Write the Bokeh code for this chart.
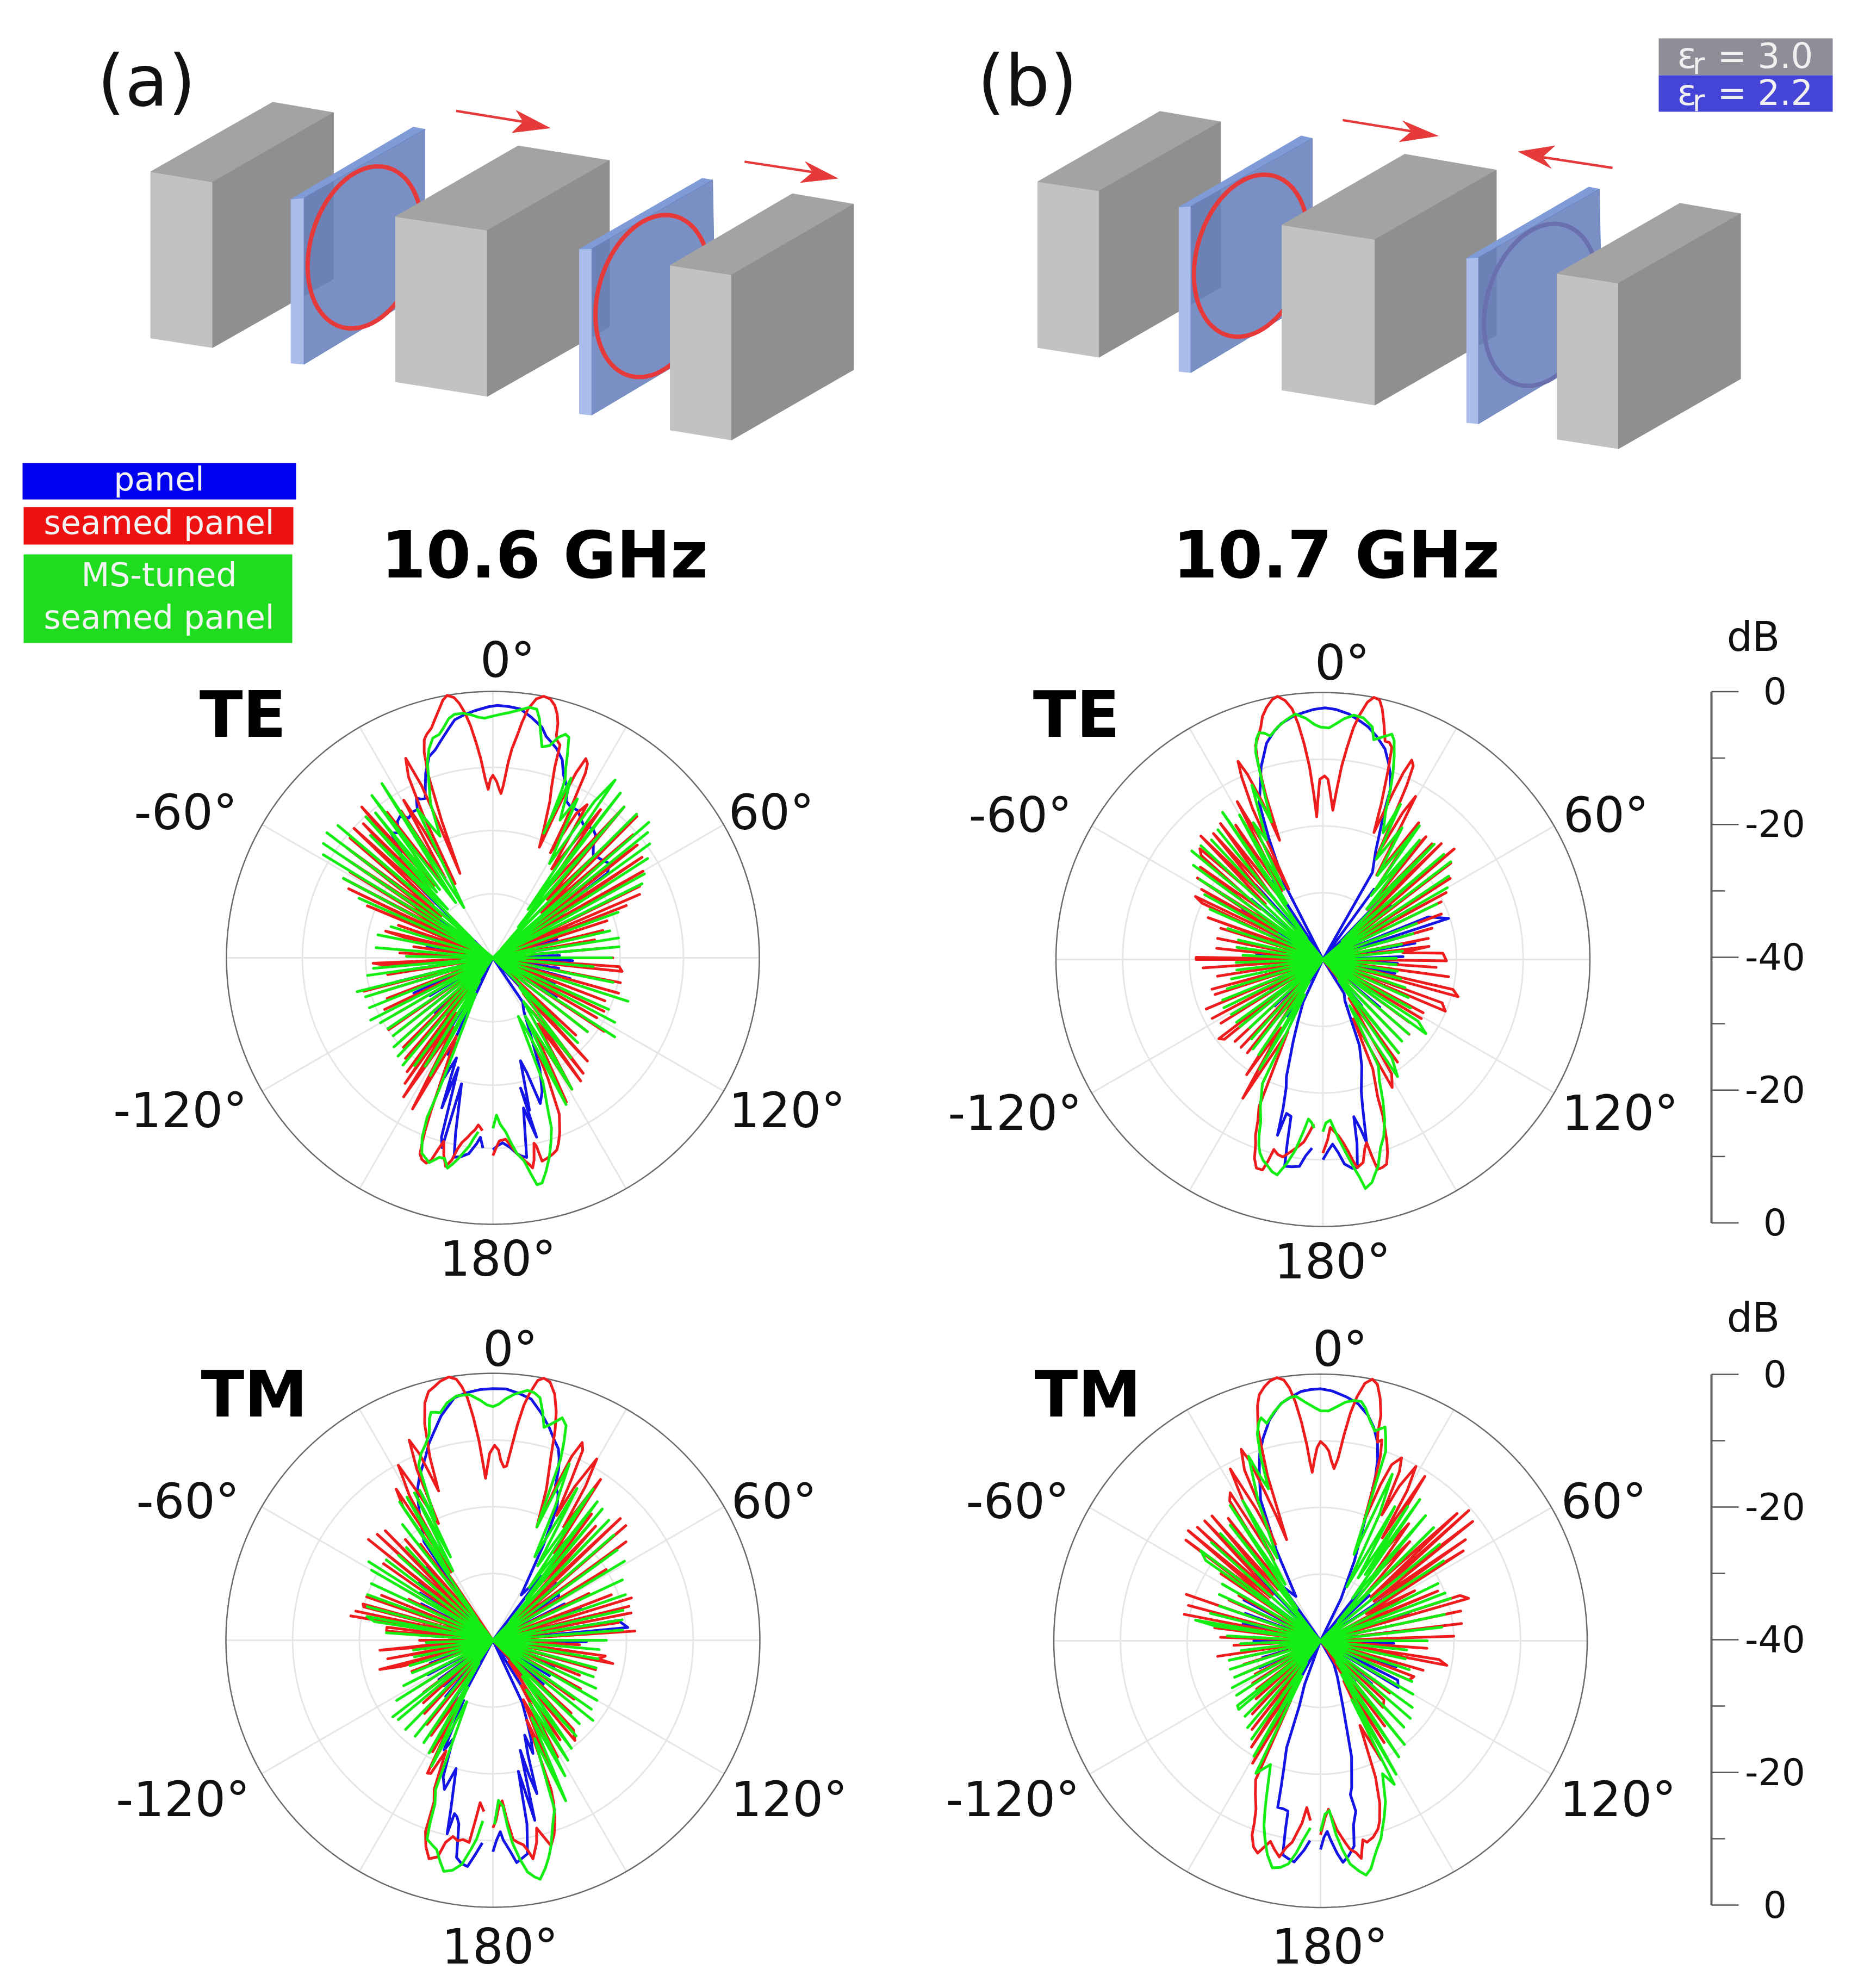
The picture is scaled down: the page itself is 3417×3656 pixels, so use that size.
import numpy as np
from bokeh.plotting import figure
from bokeh.models import Range1d
from bokeh.core.properties import value
from bokeh.embed import file_html
from bokeh.resources import INLINE

te_a_blue = [-177,-11.4,-176,-13,-175,-12,-173,-10.4,-171,-9.8,-169,-9.5,-168,-13,-166,-20.5,-165,-10.5,-164,-12,-162.5,-22.7,-161.2,-16.2,-160,-24,-157.3,-19.4,-156,-26,-155,-24,-153,-40,-149,-26,-146,-40,-142,-29,-138,-40,-134,-28,-131,-40,-128,-27,-125,-40,-121,-29,-118,-40,-114,-27,-111,-40,-107,-28,-106,-40,-104,-25,-101,-40,-98,-28,-96,-40,-93,-27,-90,-40,-87,-29,-84,-40,-80,-30,-77,-40,-73,-31,-70,-40,-66,-30,-63,-40,-60,-31,-57,-40,-54,-30,-50,-38,-46,-24,-44,-20,-41,-19,-39.2,-15.8,-37,-16.5,-35,-15,-33.3,-14.6,-31,-15.5,-29,-15,-27,-15,-25.6,-13.4,-24.5,-13.8,-23,-14,-21.4,-12.2,-20,-10.5,-17.6,-8.3,-15.5,-7.6,-13.7,-6.6,-11,-5,-9.1,-3.8,-6.5,-3.2,-4.2,-2.8,-1,-2.3,1,-2.1,3.5,-2.2,6.3,-2.4,9,-3.4,12,-4.6,13.5,-5.8,15,-6.4,17,-7.2,19.3,-8.5,21,-10.5,23.9,-12.3,25,-14,26.7,-14.4,30,-14.5,34,-15.8,37.9,-15.5,40,-16,41,-17,44.2,-18.4,48,-18,51,-17.5,53.5,-18.6,56,-33,60,-25,63,-40,67,-28,70,-40,74,-30,77,-40,81,-31,84,-40,88,-30,90,-40,92,-28,95,-40,99,-30,102,-40,105,-28,108,-40,112,-30,115,-40,118,-30,119.5,-40,121.4,-28.8,124,-40,128,-32,132,-40,137,-33,142,-40,146,-32,150,-30.7,154,-27,157,-22,159.8,-18.6,162,-17,163.5,-22,165,-24,166.5,-16.5,167.5,-19,168,-20,166.3,-12.3,168.5,-17,170.4,-9.6,172,-10,173,-10.4,175,-11.5,177,-12.2,178.5,-11.8,180,-11.2]
te_a_red = [-176.5,-14,-175.5,-14.6,-175,-14.8,-174,-14,-173,-13.5,-172,-12.8,-170.5,-11.9,-169.5,-10.8,-168.5,-9,-167.2,-7.9,-166,-9.5,-165,-11.5,-164,-10,-163,-8.2,-162,-7.6,-160.6,-7.9,-159.6,-8.6,-159,-10.5,-158.5,-12.5,-158,-15,-155,-27,-152,-14.3,-150.5,-28,-147.3,-15.2,-146,-30,-145,-17,-143.5,-32,-143,-18.6,-141,-34,-139,-20,-137.5,-36,-135,-21,-133.5,-38,-132,-21.5,-130,-40,-128,-22,-126.5,-40,-124.6,-21,-122.5,-40,-120,-23,-118,-40,-115.5,-22,-113.5,-40,-111,-23,-109,-40,-107,-22,-105.5,-40,-104.5,-20,-102,-40,-99,-24,-97,-40,-94,-24,-92.6,-22,-90.5,-40,-87,-26,-85,-40,-82,-28,-80,-40,-77,-26.5,-76,-23.4,-74,-38,-71,-25,-69.5,-38,-67.5,-19.6,-66,-36,-64.4,-16,-63.2,-36,-62,-14.6,-60.5,-34,-59,-15,-57.5,-32,-56,-13.5,-54.5,-30,-53,-12.5,-51.5,-30,-50,-12,-48.5,-28,-47,-11.5,-45.5,-27,-44,-12,-42.5,-26,-41,-10,-39,-26,-36,-13,-34,-26,-32,-14,-31,-26,-29.5,-12.8,-28.5,-18,-27,-27.5,-26,-16,-25,-10,-23.6,-7.3,-22.5,-12,-22,-18,-21.3,-26.4,-20.5,-18,-19.5,-11,-18.5,-7.5,-17.5,-5.7,-16.5,-5,-15,-4.3,-13.5,-3,-12.4,-2,-11,-0.6,-9.9,0,-8.5,-0.5,-7.5,-1.5,-6.5,-3,-5.5,-5,-4.5,-7.5,-3.5,-10,-2.5,-13,-1.6,-14.7,-0.8,-13.2,0,-12.6,1.2,-13.5,2,-14.5,2.8,-15.3,3.4,-14.2,3.8,-13,4.5,-10.5,5.2,-8.5,6.2,-6.5,7,-4.5,8,-2.3,9.5,-0.6,11,0,12.5,-0.2,13.8,-1,14.8,-2.2,15.5,-3.5,15.9,-5.2,16.5,-6,17.5,-6.5,18,-10,19,-13,20,-15,21.5,-19,22.8,-22,23.3,-17,23.7,-13,24.2,-9.5,25,-7,26,-7.6,26.6,-9,27,-12,28,-17,28.7,-22,30,-15,31.6,-13,33.5,-24,36,-12.5,38,-27,41,-10,43,-28,45.5,-9.7,47,-30,48.7,-12,50,-30,52,-12.5,53.5,-33,56,-13,57.5,-35,60,-14,61.5,-38,64,-15.5,65.3,-38,66.6,-16,67.8,-40,68.6,-18.5,70,-40,72,-22,73.5,-40,76,-23,77.5,-40,80,-24.5,82,-40,85,-24,87,-40,90,-22,91.5,-40,94,-21,96,-20.5,98,-40,101,-20.5,103,-40,105.7,-20.4,107.5,-40,111,-22,113,-40,115.7,-21.5,117.5,-40,120,-22,121.5,-40,123.5,-20,125.5,-40,128,-22,130,-40,133,-23,135,-36,137.5,-19,139.5,-33,142,-18,143.5,-30,144.5,-17.3,146,-28,149,-17,150.5,-27,153,-15.7,154.5,-25,155.5,-20,157,-14.5,159,-12,160.5,-10.5,161.6,-9.6,163,-9.2,165,-8.8,166.4,-8.6,167,-11,167.5,-11.5,168.5,-9,169.3,-7.9,170,-8.5,170.8,-9,172,-9.8,173,-10.4,175,-12,176,-12.7,177,-12.6,178,-12.5,179,-11.5,180,-10.3]
te_a_green = [-175.2,-13.8,-174,-12.8,-172.8,-11.5,-171.5,-10.5,-170.2,-9.4,-169,-8.5,-167.8,-7.7,-166.5,-9,-165,-9,-164,-8.5,-162.7,-7.8,-160,-8.8,-158.5,-11,-157.6,-14.1,-157.8,-18.3,-157.5,-23.6,-154.5,-34,-152,-20,-150,-36,-148,-20.8,-146,-38,-144,-20,-142,-40,-140,-19,-138,-40,-136,-19.5,-134,-40,-132,-20,-130,-40,-128,-21,-126,-40,-124,-21,-122,-40,-120,-20.5,-118,-40,-117,-19.4,-115,-40,-112,-20,-110,-40,-107,-20,-105,-40,-104,-19,-101,-40,-98,-21,-96,-40,-95,-22,-92,-40,-89,-27,-87,-40,-85,-22.4,-82,-40,-78.7,-22.4,-76,-40,-73,-24,-70,-40,-66,-18,-64,-40,-62,-14.6,-61,-40,-58.7,-10.2,-57.5,-40,-56,-9.3,-54.5,-40,-53,-8.8,-51,-40,-49.5,-9.4,-47.5,-36,-45,-14,-43,-30,-42,-11.5,-40.5,-27,-39,-12,-38,-27,-36.7,-9.6,-34,-30,-32.5,-9,-30,-31.3,-27,-15,-24.5,-19,-23.5,-20.1,-22,-15,-20,-11.9,-18.5,-9,-17,-7.2,-15.3,-5.8,-13.5,-5.5,-12,-4.6,-10.5,-3.5,-9,-3,-7,-3,-5,-3.4,-3.5,-3.8,-2,-4,0,-3.7,2,-3.4,3.8,-3.1,6,-2.6,8.3,-2,10,-2.1,11,-3.4,11.5,-4.5,13.1,-7.5,15,-7,16.5,-5.5,18,-4.7,19,-5,20,-7.2,21,-9.5,22,-11,22.3,-12.6,22.5,-17,22.2,-19.8,23.5,-10.6,26,-17,28,-13,31,-23.5,33,-12,34.5,-7.6,36,-31,37.7,-8.7,39.5,-34,41,-10,43,-38,45,-9.5,47,-40,49,-9,50.5,-40,51,-10.1,52.5,-40,54,-10.9,55.5,-40,57.3,-12.4,59,-40,61,-14,62.5,-40,63.6,-15,66,-40,70,-20,73,-40,77,-22,79,-40,81,-20.9,83,-40,85,-21,87,-40,90,-22.2,92,-40,95,-24.9,98,-40,101.5,-21.6,104,-40,107.8,-18.7,110,-40,114,-21,116,-40,117.9,-19.3,120,-40,123,-18.2,125,-40,128,-22,131,-40,135,-22,138,-34,142,-21,145,-32,149,-17,151,-30,153.5,-15.4,155,-28,156.6,-30.4,158,-20,160,-16,161,-13,162.5,-11,164.2,-8.9,166,-7,167.7,-5.4,169,-5.3,170,-7,171.3,-9.2,173,-10.4,174.5,-12.2,175.8,-13.8,177.5,-15,178.7,-16.4,180,-14.4]

te_b_blue = [-176.7,-11.7,-175,-10.5,-173.5,-8.8,-171.5,-8.6,-169.5,-8.5,-169,-12,-168.5,-16,-166.7,-16.3,-165.5,-12.8,-165,-17,-164,-20,-162.7,-21.6,-160,-27,-158,-30,-155,-33,-152,-40,-148,-30,-145,-40,-141,-30,-138,-40,-134,-30,-131,-40,-127,-29,-124,-40,-120,-31,-117,-40,-112,-32,-109,-40,-105,-30,-102,-40,-99,-29,-96,-40,-92,-29,-89,-40,-85,-30,-82,-40,-78,-30,-75,-40,-70,-27,-67,-40,-63,-28,-60,-40,-58,-25.8,-55,-40,-50,-26,-47,-40,-42,-25,-38,-40,-33,-26,-30,-40,-27,-27,-24,-20,-22.2,-14.8,-20,-12.5,-17.8,-9.7,-16,-8,-14.6,-6.5,-12,-5,-10,-4.1,-7,-3.3,-4.6,-2.9,-2,-2.5,0.5,-2.3,3,-2.5,6,-3,9,-3.9,11,-4.5,13.5,-5.6,16.4,-7.1,18.5,-9,20,-10.5,21.6,-12.5,22.5,-16,24,-19,26,-22,29.6,-25,32,-40,36,-27,39,-40,44,-26,47,-40,52,-27,55,-40,60,-25,63,-40,68,-23,71.9,-20.2,74,-40,80,-26,83,-40,88,-28,90,-40,93,-28.8,96,-40,101,-29,104,-40,110,-28,113,-40,119,-30,123,-40,130,-28.9,134,-40,140,-31,144,-40,148,-34,152,-33,157,-26,160,-23,163.8,-19.4,165,-17,166,-14,166.6,-11.8,167.5,-14,168.9,-16,169.5,-12,170.6,-8.4,172,-8.4,174,-9.2,175.5,-11,177,-12.3,178.5,-11.3,180,-10]
te_b_red = [-176.8,-15.3,-175.5,-14,-174,-12.5,-172,-11.5,-170.5,-10.8,-168.5,-9.8,-167,-10,-165.5,-10.6,-164.8,-8.8,-164,-7.2,-162.3,-7.2,-161,-8.5,-160,-10.5,-159,-11.8,-158,-14,-156.5,-16,-154,-28,-150,-16,-148.5,-28,-146.5,-19.3,-144.5,-34,-141,-22,-139,-36,-137,-22,-135,-40,-133,-22,-131,-40,-129,-21,-127.3,-20.4,-125,-40,-122,-22,-120,-40,-118,-21.2,-116,-40,-113,-21,-111,-40,-108,-23,-106,-40,-105,-22.8,-102,-40,-99,-24,-97,-40,-94,-22,-92,-40,-90,-21,-89,-21,-87,-40,-84,-24,-82,-40,-78.7,-23.9,-76,-40,-73,-24,-71,-40,-70,-21.7,-67.5,-36,-65,-20,-63.7,-18.7,-62,-34,-60,-19,-58.5,-32,-57,-17.6,-55.5,-32,-53,-17,-51,-28,-49.5,-16,-48,-15.2,-46,-28,-44.7,-14,-43,-28,-41,-15,-39,-28,-37,-14.5,-35,-28,-33,-16,-31,-28,-28.5,-13.1,-27,-22,-26,-28.3,-25,-15,-24,-10,-23.2,-7.7,-22.2,-10,-21,-15,-20,-21,-19.2,-14,-18.3,-9,-17.5,-6.4,-16,-5,-15,-4,-14,-2.5,-12.6,-1.3,-11,-0.3,-9.8,0,-8.3,-0.8,-7,-2.2,-6,-4.5,-5,-7.5,-4,-11,-3.2,-15,-2.5,-18.6,-1.8,-16,-1,-13,0.5,-12.5,1.6,-13,2.5,-15,3.8,-17.6,4.5,-15,5.5,-11,6.5,-8,7.5,-5,8.5,-3,9.8,-0.9,11,0,12.3,-0.2,13.3,-1.4,14.5,-3.5,15.9,-6,17,-6,18,-6.6,19,-10,20.5,-15,21.9,-19.5,22.8,-13,23.3,-9.5,24,-7.3,25,-8,25.7,-11,26.5,-17,27.5,-22.3,28.5,-15,29.6,-11.9,31,-20,32.5,-25,35,-15,37,-27,40,-16,41.5,-30,43.3,-16.2,44.5,-30,45.6,-15.2,47.5,-32,49.9,-14.3,51.5,-34,53,-16,55,-36,57.5,-17.4,59.5,-38,61.5,-19,63,-40,64,-20.3,66,-40,69,-21,71,-40,74,-23,76.5,-40,78.7,-23.9,80,-40,83,-24,85,-28,87,-22,90.6,-21.5,92,-40,94,-23,95.5,-40,97.8,-21,99.5,-40,103,-20,105.4,-19,107,-40,110,-21,112.9,-20.1,114.5,-40,118,-23,119.5,-40,121,-22.8,123,-40,126,-24,128,-40,131,-22.9,133,-40,136,-24,138,-40,141,-22,142.5,-36,144,-21,146,-33,149,-20,151.6,-18.2,153,-30,155.5,-22,158.3,-17.8,159,-15,159.8,-13.2,160.7,-11,161.5,-9.5,162.7,-7.9,164,-7.6,165.4,-7.5,166,-9.5,166.6,-11.8,167.5,-11,168.8,-9,170.6,-8.4,171.5,-9.5,172.5,-11,173.7,-12.4,175,-13.5,177.5,-14.8,178.5,-13,180,-11]
te_b_green = [-177,-14.7,-176,-15.5,-174.8,-16,-173.5,-14,-171.8,-11.2,-170,-9,-168,-7,-166.5,-7.3,-165,-8,-163.4,-8.6,-162,-9.5,-161,-10.5,-160,-12,-159,-14,-157,-16,-154,-19.3,-152.5,-34,-150,-21,-148.5,-36,-146,-22.8,-144,-40,-142,-23,-140,-40,-138,-24,-136,-40,-133,-25,-131,-40,-129,-24,-127.5,-40,-126,-24,-124,-40,-121,-24,-119,-40,-116,-23.5,-114,-40,-112,-23.8,-110,-40,-107,-25,-105,-40,-102,-26,-100,-40,-97,-27,-95,-40,-92,-27,-90,-40,-87,-28,-85,-40,-82,-27,-80,-40,-77,-27,-75,-40,-72,-25,-70,-40,-66,-21.5,-64,-40,-61.3,-19.8,-59.5,-40,-57,-18,-56,-40,-54,-16,-52.5,-40,-50.4,-14.5,-49,-40,-47,-15,-45.5,-40,-43,-15.5,-41.5,-40,-39,-15,-37.5,-36,-34.3,-13.3,-33,-30,-30,-15,-29,-28,-27,-17,-25.3,-20.2,-22.2,-11.8,-20.5,-18,-19.5,-14,-18.8,-11.3,-18,-7.4,-16.8,-5.5,-15.7,-4.7,-14.5,-5,-13.3,-5.6,-11,-4.5,-8.5,-3.6,-6.4,-3,-4,-3.8,-2,-4.8,-0.5,-5.2,1.5,-5.3,3,-4.7,5,-3.8,7.2,-3.1,9.5,-3.3,12,-4.4,13,-6.2,15,-5.5,17,-4.7,18,-5.5,19.3,-7.7,20.5,-10,21.6,-12.5,23,-16,25.4,-19,26.5,-14,28,-23,31,-17,33,-25,35.8,-15.3,37,-28,39,-17,41,-30,44,-16,46,-36,49,-16,50.5,-40,52.6,-15.9,54,-40,56.5,-17.4,58,-40,60,-18.5,61.5,-40,64,-21,66,-40,69,-25,71,-40,74,-26,76,-40,79,-28,81,-40,84,-28,86,-40,89,-29,91,-40,94,-29,96,-40,99,-28.7,101,-40,104,-28,106,-40,109,-27,111,-40,114,-26,116,-40,119,-25,121,-40,123,-23,125.8,-21,128,-40,131,-23,133,-40,136,-23,138,-38,141,-22,143,-36,145,-22,147.5,-19.2,150,-32,152.5,-22,155,-20,157,-17,159,-14.2,161,-12,163,-10.5,165,-8,166.5,-6.8,167.6,-5.8,169.5,-5.1,170.5,-7,171.5,-8.4,173,-10.5,175,-13,177.4,-15.9,179,-15.5,180,-14.2]

tm_a_blue = [-177,-9.6,-175.5,-8,-173.6,-5.9,-172,-6.2,-170.5,-7,-169.5,-12,-168.5,-13,-167.5,-13.4,-166.7,-10.2,-166,-14,-164,-20,-162,-16.5,-160,-18.2,-158,-24,-156,-22,-154,-30,-152,-26,-150,-40,-147,-28,-144,-40,-140,-29,-137,-40,-133,-30,-130,-40,-126,-30,-123,-40,-118,-29,-115,-40,-110,-30,-107,-40,-102,-29,-99,-40,-95,-30,-92,-40,-86,-29.3,-83,-40,-78,-29,-75,-40,-70,-27,-67,-40,-63,-28,-60.5,-40,-57,-27,-55,-40,-52,-26,-50,-40,-47,-26,-45,-40,-42,-25.3,-39,-36,-35,-22,-30,-18,-27,-15,-24,-13,-20,-10.6,-18,-9,-16.3,-7.9,-13,-5.5,-9,-3.2,-6,-2.7,-3,-2.4,0,-2.3,3,-2.3,6,-2.8,9,-3.4,12,-5.2,14.8,-7,17,-8.6,18.9,-9.7,20,-11,21,-12.5,22,-15,24,-16,25.9,-18,28,-24,32,-32,37,-28,40,-40,45,-28,48.5,-27.2,50.5,-40,55,-28,57.4,-28.3,59,-40,63,-28,65,-40,70,-26,72,-40,76,-24,78,-40,81,-21,84.6,-19.7,86,-40,91,-26,93,-40,98,-28,101,-40,106,-29,109,-40,114,-30,117,-40,122,-30,125,-40,131,-30,134,-40,140,-31,143,-40,148,-32,151,-40,154.8,-29.7,157,-27,159,-24,160.5,-22,161.5,-25,163,-22,164,-16.1,165,-19,166,-23,166.9,-12.3,168,-17,169,-20,169.5,-12,170.8,-7.6,172.5,-7,173.9,-6.5,175.5,-8.5,177,-10,177.8,-11.3,179,-10,180,-8.3]
tm_a_red = [-177,-14.3,-175.5,-15.6,-174.5,-13,-173.3,-9.5,-171.5,-9.8,-170,-9.5,-168.5,-10,-166.8,-8.9,-165.7,-6.5,-163.7,-5.9,-162,-7.5,-160.6,-9.6,-160,-14.2,-158.5,-16,-157,-22,-155,-18,-153.8,-17.8,-152.5,-28,-151.6,-21,-149.5,-30,-147,-23,-145,-36,-142,-24,-140,-40,-137,-25,-135,-40,-132,-26,-130,-40,-127,-27,-125,-40,-122,-27,-120,-40,-117,-28,-115,-40,-111,-27,-109,-40,-106,-26,-104.5,-22.5,-103,-40,-100,-24,-98,-36,-95,-23,-92,-36,-90,-29,-87.5,-40,-85,-24,-83,-24,-81.5,-40,-80.3,-18.4,-79,-40,-78,-19,-77,-40,-75.5,-20,-74.4,-19.8,-73,-40,-71,-20,-70,-40,-68,-22,-66,-40,-64,-26,-62,-40,-60,-24,-58,-40,-55,-20,-53,-40,-51,-16,-49.5,-34,-47.5,-16.5,-46,-34,-44.5,-17,-43,-36,-41,-20,-39,-38,-37,-22,-35.5,-40,-34,-16,-32.6,-13.1,-31.5,-28,-30,-15,-28.4,-10.2,-27,-15,-25,-20.7,-24,-12,-22.7,-7.5,-21.5,-10,-20,-16.2,-19,-11,-17.5,-6,-16,-3,-14.5,-1.5,-13,-1,-11.5,-0.4,-9.5,0,-8,-0.5,-7,-1.7,-6,-3.5,-5,-6.5,-4,-10,-3.2,-13.5,-2.6,-15.7,-1.8,-14,-1,-12,0.5,-10.8,1.7,-11.5,2.5,-13,3.6,-14,4.5,-13.8,5.5,-11,6.5,-7.5,7.5,-4.5,8.5,-2.5,9.8,-0.5,11,0,12.5,-0.4,14.1,-2,15.5,-4.5,16.5,-7.2,17.5,-11,19.5,-16,21.2,-21.8,22.3,-15,23.2,-10,24.3,-7.5,25.3,-8.5,26,-13,27,-19,28,-14,29.8,-8.7,31,-13,32,-20,33.8,-11,35,-24,38,-16,40,-30,42,-17,44,-33,46.3,-13.6,47.5,-36,49.2,-13.7,51,-36,53.5,-15.2,55,-38,58,-20,60,-40,64,-24,66,-40,69,-21,71,-40,73,-18.3,75,-40,76,-19,77.5,-40,78.8,-18.9,80.5,-40,82,-21,84,-40,86.3,-18.7,88,-40,93,-27,95,-40,98,-23,100,-24,101,-21.7,103,-40,106,-24,108,-40,112,-26,115,-40,119,-25,122,-40,126,-25,128,-40,133,-24,135,-40,138,-22,140.7,-20.6,143,-36,146,-22,148,-32,151,-20,153,-30,156,-18,157,-27,158.7,-16,159.5,-14,161,-11.5,162.5,-9.5,164.2,-8,165,-9,166.9,-11.1,167.8,-9,169.6,-6.7,170.5,-8,171.5,-9,173,-9.5,174.2,-10,175.5,-13,176.7,-15.9,178,-15,179,-13,180,-11.9]
tm_a_green = [-176.8,-12.9,-175.3,-10.1,-174,-8.5,-172.1,-6.1,-170,-5,-168,-4.6,-166.5,-6,-165,-7.5,-163.5,-8,-161.7,-8.6,-161,-11,-160.5,-14,-159,-16,-158.9,-18,-157,-30,-154,-19,-152,-32,-150.5,-20.6,-148.5,-36,-146,-21.5,-144,-40,-141,-21.5,-139,-40,-135.6,-21.3,-133.5,-40,-130,-21.5,-128.5,-40,-127.4,-21.1,-125.5,-40,-122,-23,-120,-40,-117,-25,-115,-40,-112,-27,-110,-40,-107,-27,-105,-40,-102,-28,-100,-40,-97,-28,-95,-40,-92,-30,-90,-40,-86,-24,-84,-40,-81,-22,-79.3,-20.8,-77.5,-40,-75,-20.5,-73,-40,-70,-20,-68,-40,-65,-19.9,-63,-40,-60,-19,-58,-40,-57.7,-18,-56,-40,-53,-20,-51,-40,-48,-21,-46,-40,-43,-21,-41,-40,-38,-18,-36.5,-36,-34,-15,-33,-28,-31,-15,-30,-28,-28,-15,-27,-26,-26,-15,-25.5,-20,-23,-11.5,-21,-10,-19,-9,-17.2,-7.7,-16,-5.5,-15.2,-4.6,-14,-4.8,-13,-5,-11,-3.8,-8.5,-3,-5.5,-3,-3,-4,-1.5,-4.7,0,-5,1.5,-4.6,3,-3.8,5,-3,7.9,-2.2,9.5,-2.4,11,-3,12.3,-5,13.5,-7.2,15,-6.5,17.3,-5.1,18.8,-6,19.7,-8.4,20.5,-11,21.2,-21.8,23.4,-11.2,25,-18,26.6,-26,29,-14,31,-27,33.5,-12.8,34.6,-30.4,37,-14,38.5,-32,39.8,-14.4,41.5,-36,44,-15,46,-40,49,-16,51,-40,54,-17,56,-40,59,-17,61,-40,65,-18.6,67,-40,71,-19,73,-40,77,-20,79,-40,81,-20.4,83,-40,85.5,-20.5,87,-40,90,-23,92,-40,95,-24,97,-40,100,-24,102,-40,105,-24,107,-40,110,-24,112,-40,115,-23,117,-40,120,-22,122,-40,125,-22,127,-40,128.7,-20.8,130.5,-40,134,-22,136,-36,139,-21,141,-33,144,-20,146,-31,148,-18.8,150,-29,152,-17,153.5,-27,155.6,-13.6,157,-24,160,-13,162,-11,164.2,-8,165.5,-6.5,167,-5,168.8,-3.5,170,-4,171.5,-4.9,173,-7,174.5,-9.5,175.5,-12,176.5,-15,178,-16,179.5,-12.4]

tm_b_blue = [-177,-10,-175.5,-8.5,-173.2,-6.6,-171.5,-7,-170,-7.4,-169.5,-11,-169.2,-14,-167.5,-14.2,-165.6,-14.2,-165,-17,-164,-20,-162.4,-23.2,-162,-29.8,-160,-33,-156,-40,-152,-28,-149,-40,-145,-28,-142,-40,-137,-29,-134,-40,-130,-30,-127,-40,-122,-29,-119,-40,-114,-30,-111,-40,-106,-31,-103,-40,-98,-30,-95,-40,-90,-30,-87,-40,-82,-29,-79.5,-40,-77.6,-28.1,-75,-40,-70,-28,-67,-40,-62,-27,-59,-40,-52.8,-24,-50,-40,-44,-26,-41,-40,-35,-30,-29,-32.4,-26,-25,-23,-17,-19.8,-12.9,-18,-10.5,-15.8,-8.4,-13,-6,-11,-4.8,-9.4,-3.9,-7,-3.2,-4.5,-2.5,-2.3,-2.3,0,-2.2,2.7,-2.5,6,-3.2,9,-4,12,-5.5,14,-7,16,-9,17.5,-11.5,18.5,-14,19.5,-18,21,-23,23,-27,26,-33,32,-40,38,-30,41,-40,47,-30,50,-40,56,-28,59,-40,64,-27,67,-40,73.4,-26.2,76,-40,83,-28,86,-40,92,-29,95,-40,100,-28.2,103,-40,109,-28,112,-40,117,-27,121,-26.4,124,-40,130,-30,133,-40,140,-32,144,-40,150,-36,155,-34,161.3,-29.4,165,-22,168,-17.5,169,-16.5,168.3,-13.9,169.8,-12,170.7,-8.8,172.5,-7.5,174.2,-6.6,175.5,-8,177,-10,178,-11.4,179,-10.5,180,-8.7]
tm_b_red = [-176.8,-13,-175.3,-14.9,-174.2,-12.5,-172,-9.5,-170.5,-8.5,-169.2,-7,-167.5,-8,-166,-9,-164.8,-8,-163.5,-6.8,-162,-7.5,-160.6,-9.1,-160,-11,-159,-13,-157,-15,-155,-17,-153.5,-30,-151,-19,-149.5,-33,-147,-21,-145,-36,-142.3,-23.2,-140,-40,-137,-25,-135,-40,-132,-27,-130,-40,-127,-28,-125,-40,-122,-28,-120,-40,-117,-29,-115,-40,-113,-27,-111,-40,-107,-28,-105,-40,-102,-27,-100,-40,-98.6,-24.4,-96,-40,-93,-27,-91,-40,-88,-25,-86,-40,-83,-24,-81,-40,-79,-19.2,-77,-40,-75,-19.5,-73,-40,-70.9,-18.7,-68.5,-40,-66,-25,-64,-40,-61,-26,-59,-40,-56,-22,-54.5,-32,-53.2,-14.8,-52,-30,-50.2,-14.2,-49,-30,-47.3,-14.9,-46,-30,-44,-15,-42.5,-30,-41,-15.2,-39.5,-30,-37,-17,-35,-30,-33,-15,-31.4,-14,-30,-26,-29,-16,-27.7,-10.9,-26,-18,-25,-24,-24,-12,-22.5,-8.9,-21.5,-11,-20.5,-16,-19.5,-20,-18.5,-24,-17.8,-14,-16.5,-7,-15,-3.5,-14,-2,-12.5,-1,-11,-0.3,-9.4,0,-8,-0.5,-7,-1.8,-6,-4,-5,-7,-4,-10.5,-3.4,-13,-2.8,-14.7,-2,-13,-1,-11,0,-10.1,1.5,-10.8,2.5,-11.5,3.5,-13,4.5,-14.1,5.5,-12.5,6.5,-9,7.5,-5.5,8.5,-3,9.8,-0.8,11.2,0,12.5,-0.6,13.8,-2.5,15,-5,15.4,-7.6,16,-9,17,-8.5,18,-11,19,-16,20,-21,21,-15,22,-11.5,23.9,-10,25,-12,26,-19,27,-14,28.7,-10.2,30,-14,31,-22,32.4,-10.8,34,-26,37,-18,39,-28,42,-20,44,-30,47,-12,49,-30,48.7,-10.4,50.5,-28,51.9,-11,53.5,-30,55.1,-13.5,56.5,-30,57.8,-14.7,59.5,-32,62,-24,64,-36,67,-20.9,69,-40,72,-18,74,-16.9,76,-40,78,-18.5,80,-40,83,-18.7,85,-40,88,-20,90,-40,94,-24,96,-40,99,-22,101,-20.7,103,-40,106,-24,108,-40,111,-25,114,-25.5,116,-40,120,-27,122,-40,127,-27,129,-40,133,-27,136.8,-26.3,139,-40,143,-24,145,-38,148,-22,150,-33,153,-20,155,-26,158,-18,160,-14,161.8,-11.6,163,-10.5,165,-9.5,167,-9,168,-9.5,169.4,-6.8,170.5,-7.8,171.9,-8.4,173,-9.5,175,-11.5,177.3,-14.7,178.5,-13.5,180,-10.9]
tm_b_green = [-176.9,-11.9,-175,-10,-173.5,-8,-171.8,-6.2,-170,-5.5,-168,-5.2,-166,-7,-164.3,-9.2,-163,-11,-162,-13,-161,-15,-158,-20,-154,-17.9,-152.5,-34,-150,-20,-148,-36,-145,-22,-143,-40,-140,-23,-138,-40,-135,-24,-133,-40,-130,-24,-128,-24.2,-126,-40,-123,-25,-121,-40,-118,-25,-116,-40,-113,-26,-111,-40,-107.5,-25.8,-105,-40,-102,-26,-100,-40,-97,-28,-95,-40,-92,-28,-90,-40,-87,-26,-85,-40,-82,-24,-80.6,-21,-78.5,-40,-76,-23,-74,-40,-71,-24,-69,-40,-65.4,-23.3,-63,-40,-60,-23,-58,-40,-55,-19,-53,-17.5,-51,-40,-48,-18,-46,-40,-43,-18,-41,-38,-38,-18,-36,-34,-33.7,-15.6,-32,-30,-29,-16,-27.5,-26,-24,-17,-21.3,-10.3,-20,-14,-18.9,-15.9,-18,-11,-17,-7.6,-15.8,-6,-14.9,-5.4,-13.9,-6.4,-11.5,-5,-9.3,-3.9,-7.5,-3.3,-5.8,-3.1,-3.5,-4.2,-1.5,-5,-0,-5.5,2,-5.5,4,-4.8,6,-4,8,-3.6,9.7,-3.6,11,-4.5,12.5,-6,14.5,-7.5,16.8,-6.5,17.8,-8,19,-10,21.2,-26.1,23.3,-12.8,25,-19,26,-31,29,-17,31,-29,33,-16,34,-28,35.1,-14.1,37,-32,40,-15.5,42,-36,45,-16,47,-40,51,-17,53,-40,57,-18,59,-40,64,-20.4,66,-40,69,-20,71,-40,71.9,-19.5,74,-40,78,-21,80,-40,83.6,-21.7,85.5,-40,90,-24,92,-40,96,-27,98,-40,102,-27,104,-40,108,-26,110,-40,114,-25,116,-40,120,-24,122,-40,126,-23,128,-40,130.8,-22.2,132.5,-40,136,-22,138,-38,141,-20,143,-36,146,-19,148,-34,150.5,-17,152,-30,152.8,-15.8,155,-18,158,-14,160,-12,163,-9,165,-7.5,166,-6.6,167.5,-5,169,-4.2,170.5,-5,172.4,-6.2,174,-8.5,175.5,-11,177,-14.5,178.5,-14,180,-11.4]

panels = [
    dict(name="TE", name_xy=(446, 1316), cx=906, cy=1761, R=490, rings=[-30.4, -20.9, -11.4],
         blue=te_a_blue, red=te_a_red, green=te_a_green,
         label_xy=[(933, 1213), (1418, 1493), (1447, 2041), (915, 2314), (331, 2041), (341, 1493)]),
    dict(name="TE", name_xy=(1979, 1316), cx=2432.5, cy=1764, R=491, rings=[-30, -20, -10],
         blue=te_b_blue, red=te_b_red, green=te_b_green,
         label_xy=[(2468, 1218), (2953, 1498), (2979, 2046), (2450, 2319), (1866, 2046), (1876, 1498)]),
    dict(name="TM", name_xy=(467, 2566), cx=906, cy=3016, R=491, rings=[-30, -20, -10],
         blue=tm_a_blue, red=tm_a_red, green=tm_a_green,
         label_xy=[(938, 2480), (1423, 2760), (1451, 3308), (919, 3579), (336, 3308), (345, 2760)]),
    dict(name="TM", name_xy=(2000, 2566), cx=2428, cy=3017, R=490.5, rings=[-30, -20, -10],
         blue=tm_b_blue, red=tm_b_red, green=tm_b_green,
         label_xy=[(2464, 2480), (2949, 2760), (2975, 3308), (2445, 3579), (1862, 3308), (1871, 2760)]),
]

angle_labels = ["0°", "60°", "120°", "180°", "-120°", "-60°"]
spokes = [0, 30, 60, 90, 120, 150]
db_ticks = [0, -10, -20, -30, -40, -30, -20, -10, 0]
db_labels = ["0", "", "-20", "", "-40", "", "-20", "", "0"]

SERIES_COL = dict(blue="#1414e6", red="#ee1c1c", green="#14ee14")

p = figure(width=3401, height=3640, x_range=Range1d(0, 3401), y_range=Range1d(3640, 0),
           output_backend="svg", toolbar_location=None, min_border=0,
           x_axis_location=None, y_axis_location=None)
p.grid.visible = False
p.outline_line_color = None

FONT = value("DejaVu Sans")

def txt(x, y, s, size, color="#111111", bold=False, align="center"):
    p.text([x], [y], text=[s], text_font=FONT, text_font_size=value(f"{size}px"), text_color=color,
           text_align=align, text_baseline="middle", text_font_style="bold" if bold else "normal")

def poly(pts, color, alpha=1.0):
    p.patch([a for a, _ in pts], [b for _, b in pts], fill_color=color, line_color=color, line_width=1, fill_alpha=alpha, line_alpha=alpha)

FRONT, TOP, SIDE = "#c2c2c2", "#a3a3a3", "#8f8f8f"

def box(f, a, b, c, d, e, g, h):
    poly(f(a, b, d, c), FRONT)
    poly(f(a, e, g, b), TOP)
    poly(f(b, g, h, d), SIDE)

def to_a(*pts):
    return [(x / 0.922, y / 1.307) for x, y in pts]

def to_b(*pts):
    return [(1700 + x / 0.913, y / 1.307) for x, y in pts]

def plate(f, e1, e2, e3, e4, t1, t2, fr, br):
    poly(f(e1, e2, e3, e4), "#a9bcea")
    poly(f(e1, t1, t2, e2), "#7f9bd8")
    poly(f(e2, t2, br, e3), "#6780bb", 0.875)

def ring(f, c, color):
    (cx, cy), = f(c)
    t = np.linspace(0, 2 * np.pi, 80)
    p.line(cx + 105 * np.cos(t), cy + 145 * np.sin(t) - 105 * 0.33 * np.cos(t), line_color=color, line_width=8)

def arrow(f, s, tip, b1, n, b2):
    pts = f(s, n)
    p.line([pts[0][0], pts[1][0]], [pts[0][1], pts[1][1]], line_color="#e63a3a", line_width=4.5)
    poly(f(tip, b1, n, b2), "#e63a3a")

# drawing (a)
box(to_a, (255, 412), (360, 437), (255, 812), (360, 835), (462, 245), (565, 270), (565, 670))
plate(to_a, (493, 478), (515, 475), (515, 875), (493, 872), (700, 305), (720, 310), None, (720, 700))
ring(to_a, (618, 594), "#e63a3a")
box(to_a, (670, 520), (826, 553), (670, 917), (826, 952), (878, 350), (1033, 385), (1033, 785))
plate(to_a, (982, 598), (1003, 597), (1003, 997), (982, 994), (1190, 428), (1208, 432), None, (1213, 820))
ring(to_a, (1106, 711), "#e63a3a")
box(to_a, (1136, 637), (1240, 660), (1136, 1033), (1240, 1057), (1343, 465), (1447, 490), (1447, 888))
arrow(to_a, (773, 266), (932, 307), (875, 265), (887, 292), (868, 318))
arrow(to_a, (1262, 388), (1420, 428), (1365, 388), (1378, 413), (1357, 438))

# drawing (b)
box(to_b, (190, 436), (293, 458), (190, 835), (293, 858), (395, 267), (497, 292), (497, 690))
plate(to_b, (427, 497), (447, 495), (447, 895), (427, 892), (632, 326), (651, 332), None, (651, 720))
ring(to_b, (548, 614), "#e63a3a")
box(to_b, (600, 540), (756, 575), (600, 937), (756, 973), (806, 370), (960, 408), (960, 805))
plate(to_b, (910, 620), (930, 618), (930, 1018), (910, 1015), (1115, 449), (1133, 454), None, (1138, 840))
ring(to_b, (1035, 732), "#6a6fae")
box(to_b, (1062, 657), (1165, 680), (1062, 1055), (1165, 1078), (1268, 488), (1370, 513), (1370, 910))
arrow(to_b, (702, 288), (862, 326), (803, 290), (818, 315), (797, 340))
arrow(to_b, (1155, 403), (997, 364), (1058, 350), (1037, 377), (1052, 404))

txt(269, 148, "(a)", 130)
txt(1889, 148, "(b)", 130)

# material key
p.quad(left=[3050], right=[3370], top=[70], bottom=[138], fill_color="#8e8e98", line_color=None)
p.quad(left=[3050], right=[3370], top=[138], bottom=[205], fill_color="#4444d6", line_color=None)
for yy, s in [(102, "= 3.0"), (170, "= 2.2")]:
    txt(3084, yy, "ε", 66, "#f0f0f0", align="left")
    txt(3112, yy + 14, "r", 56, "#f0f0f0", align="left")
    txt(3158, yy, s, 64, "#f0f0f0", align="left")

# series key
p.quad(left=[41], right=[544], top=[851], bottom=[918], fill_color="#0000f0", line_color=None)
p.quad(left=[43], right=[539], top=[932], bottom=[1001], fill_color="#ee1111", line_color=None)
p.quad(left=[43], right=[537], top=[1019], bottom=[1182], fill_color="#1fdc1f", line_color=None)
txt(292, 880, "panel", 60, "#f4f4f4")
txt(292, 960, "seamed panel", 60, "#f4f4f4")
txt(292, 1056, "MS-tuned", 60, "#f4f4f4")
txt(292, 1134, "seamed panel", 60, "#f4f4f4")

txt(1001, 1020, "10.6 GHz", 119, "#000000", True)
txt(2457, 1020, "10.7 GHz", 119, "#000000", True)

def polar_xy(pn, th, db):
    th = np.radians(np.asarray(th, float))
    rr = np.clip((np.asarray(db, float) + 40) / 40, 0, None) * pn["R"]
    return pn["cx"] + rr * np.sin(th), pn["cy"] - rr * np.cos(th)

for pn in panels:
    t = np.linspace(0, 2 * np.pi, 240)
    for d in pn["rings"]:
        x, y = polar_xy(pn, np.degrees(t), np.full_like(t, d))
        p.line(x, y, line_color="#e6e6e6", line_width=3)
    for s in spokes:
        x, y = polar_xy(pn, [s, s + 180], [0, 0])
        p.line(x, y, line_color="#e6e6e6", line_width=3)
    x, y = polar_xy(pn, np.degrees(t), np.zeros_like(t))
    p.line(x, y, line_color="#6a6a6a", line_width=2.5)
    for key in ["blue", "red", "green"]:
        arr = pn[key]
        x, y = polar_xy(pn, arr[::2], arr[1::2])
        p.line(x, y, line_color=SERIES_COL[key], line_width=5, line_join="round")
    for (lx, ly), lab in zip(pn["label_xy"], angle_labels):
        txt(lx, ly, lab, 89)
    txt(pn["name_xy"][0], pn["name_xy"][1] - 2, pn["name"], 117, "#000000", True)

# dB scales
for top, bottom, lab_x, db_y in [(1271.5, 2248.5, 3264, 1170), (2527, 3503, 3264, 2422)]:
    ys = np.linspace(top, bottom, len(db_ticks))
    p.line([3147, 3147], [top, bottom], line_color="#666666", line_width=4)
    for i, (yy, lab) in enumerate(zip(ys, db_labels)):
        p.line([3147, 3197 if lab else 3172], [yy, yy], line_color="#555555", line_width=2.5)
        if lab:
            txt(lab_x, yy - 2, lab, 68)
    txt(3224, db_y, "dB", 74)

open("out.html", "w").write(file_html(p, INLINE))
